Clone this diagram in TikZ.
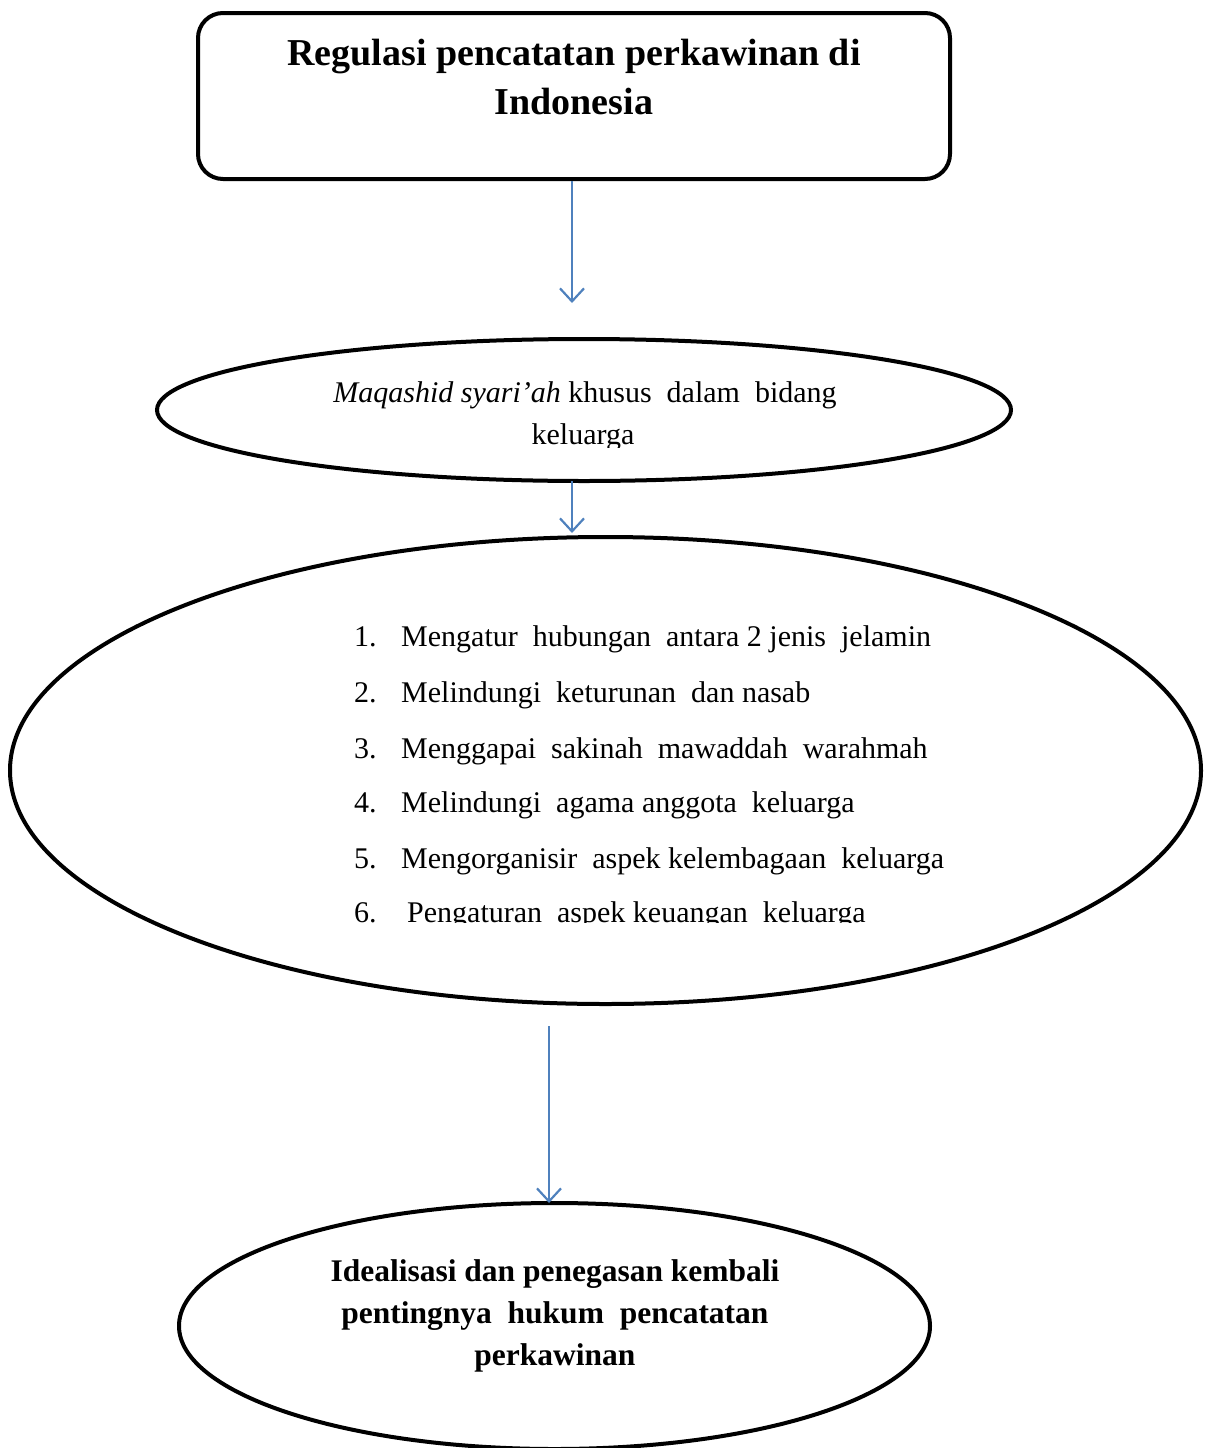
\documentclass[tikz,border=0pt]{standalone}
\usepackage{fontspec}
\setmainfont{Liberation Serif}
\usetikzlibrary{arrows.meta,shapes.geometric}
\definecolor{arrowblue}{RGB}{79,129,189}
\tikzset{
  shapeline/.style={draw=black, line width=4pt},
  flowarrow/.style={draw=arrowblue, line width=2.2pt, -{Straight Barb[length=13pt,width=24pt,line width=2.2pt]}},
  plaintext/.style={inner sep=0pt, font=\fontsize{30}{42}\selectfont},
  boldtext/.style={inner sep=0pt, align=center, font=\fontsize{31.5}{42}\selectfont\bfseries},
}
\begin{document}
\begin{tikzpicture}[x=1pt,y=-1pt]
\useasboundingbox (0,0) rectangle (1211,1448);
% top box
\node[shapeline, rounded corners=25pt, minimum width=752pt, minimum height=166pt, anchor=north west] (box) at (196,11) {};
\node[inner sep=0pt, align=center, font=\fontsize{38}{49}\selectfont\bfseries] (title) at (574,77) {Regulasi pencatatan perkawinan di\\Indonesia};
% ellipse 1
\node[shapeline, ellipse, minimum width=854pt, minimum height=142pt, inner sep=0pt] (ell1) at (584,410) {};
\begin{scope}
\clip (150,360) rectangle (1020,447);
\node[plaintext, anchor=base] (t1a) at (585,402) {\textit{Maqashid syari’ah} khusus\ \ dalam\ \ bidang};
\node[plaintext, anchor=base] (t1b) at (583,444) {keluarga};
\end{scope}
% big ellipse
\node[shapeline, ellipse, minimum width=1191pt, minimum height=467pt, inner sep=0pt] (ell2) at (605.5,770.5) {};
\begin{scope}
\clip (300,600) rectangle (1000,922);
\node[plaintext, anchor=base west] (n1) at (354,646) {1.};
\node[plaintext, anchor=base west] (i1) at (401,646) {Mengatur\ \ hubungan\ \ antara 2 jenis\ \ jelamin};
\node[plaintext, anchor=base west] (n2) at (354,702) {2.};
\node[plaintext, anchor=base west] (i2) at (401,702) {Melindungi\ \ keturunan\ \ dan nasab};
\node[plaintext, anchor=base west] (n3) at (354,758) {3.};
\node[plaintext, anchor=base west] (i3) at (401,758) {Menggapai\ \ sakinah\ \ mawaddah\ \ warahmah};
\node[plaintext, anchor=base west] (n4) at (354,812) {4.};
\node[plaintext, anchor=base west] (i4) at (401,812) {Melindungi\ \ agama anggota\ \ keluarga};
\node[plaintext, anchor=base west] (n5) at (354,868) {5.};
\node[plaintext, anchor=base west] (i5) at (401,868) {Mengorganisir\ \ aspek kelembagaan\ \ keluarga};
\node[plaintext, anchor=base west] (n6) at (354,922) {6.};
\node[plaintext, anchor=base west] (i6) at (407,922) {Pengaturan\ \ aspek keuangan\ \ keluarga};
\end{scope}
% bottom ellipse
\node[shapeline, ellipse, minimum width=751pt, minimum height=246pt, inner sep=0pt] (ell3) at (554.5,1326) {};
\node[boldtext] (t3) at (555,1316) {Idealisasi dan penegasan kembali\\pentingnya\ \ hukum\ \ pencatatan\\perkawinan};
% arrows
\coordinate (a1end) at (572,303);
\coordinate (a2start) at (572,481);
\coordinate (a2end) at (572,533);
\coordinate (a3start) at (549,1026);
\coordinate (a3end) at (549,1203);
\draw[flowarrow] (box.south -| a1end) -- (a1end);
\draw[flowarrow] (a2start) -- (a2end);
\draw[flowarrow] (a3start) -- (a3end);
\end{tikzpicture}
\end{document}
